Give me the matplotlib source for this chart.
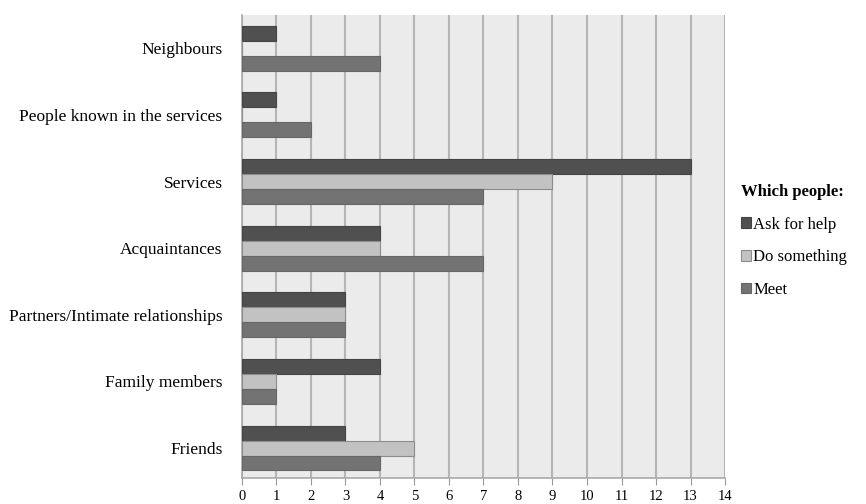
import numpy as np
import matplotlib
matplotlib.use("Agg")
import matplotlib.pyplot as plt

plt.rcParams['font.family'] = ['Liberation Serif', 'DejaVu Serif']

categories = ["Neighbours", "People known in the services", "Services",
              "Acquaintances", "Partners/Intimate relationships",
              "Family members", "Friends"]
ask_for_help = [1, 1, 13, 4, 3, 4, 3]
do_something = [0, 0, 9, 4, 3, 1, 5]
meet = [4, 2, 7, 7, 3, 1, 4]
series_names = ["Ask for help", "Do something", "Meet"]
xticks = list(range(0, 15))

fig = plt.figure(figsize=(8.66, 5.04), dpi=100)
ax = fig.add_axes([0.2794, 0.0516, 0.5578, 0.9186])
ax.set_facecolor("#ebebeb")

y = np.arange(len(categories))
h = 0.225
colors = ["#505050", "#c2c2c2", "#737373"]
edges = ["#444444", "#8c8c8c", "#666666"]
for i, (vals, name) in enumerate(zip([ask_for_help, do_something, meet], series_names)):
    ax.barh(y + (i - 1) * h, vals, height=h, color=colors[i],
            edgecolor=edges[i], linewidth=0.8, label=name, zorder=3)

ax.set_ylim(len(categories) - 0.55, -0.5)
ax.set_xlim(0, 14)
ax.set_xticks(xticks)
ax.set_yticks(y)
ax.set_yticklabels(categories, fontsize=12.5)
ax.tick_params(axis='x', labelsize=10.5, direction='out', length=5, color='#999999', pad=4)
ax.tick_params(axis='y', length=0, pad=14)
ax.grid(axis='x', color='#b5b5b5', linewidth=1.5, zorder=1)
for s in ['top', 'right']:
    ax.spines[s].set_visible(False)
for s in ['left', 'bottom']:
    ax.spines[s].set_color('#aaaaaa')
    ax.spines[s].set_linewidth(1.2)

leg = ax.legend(loc='upper left', bbox_to_anchor=(0.838, 0.665),
                bbox_transform=fig.transFigure, frameon=False,
                title="Which people:", fontsize=12, handlelength=0.6,
                handleheight=0.6, handletextpad=0.15, labelspacing=1.0)
leg.get_title().set_fontweight('bold')
leg.get_title().set_fontsize(12)
leg._legend_box.align = "left"

fig.savefig("out.png", dpi=100)
